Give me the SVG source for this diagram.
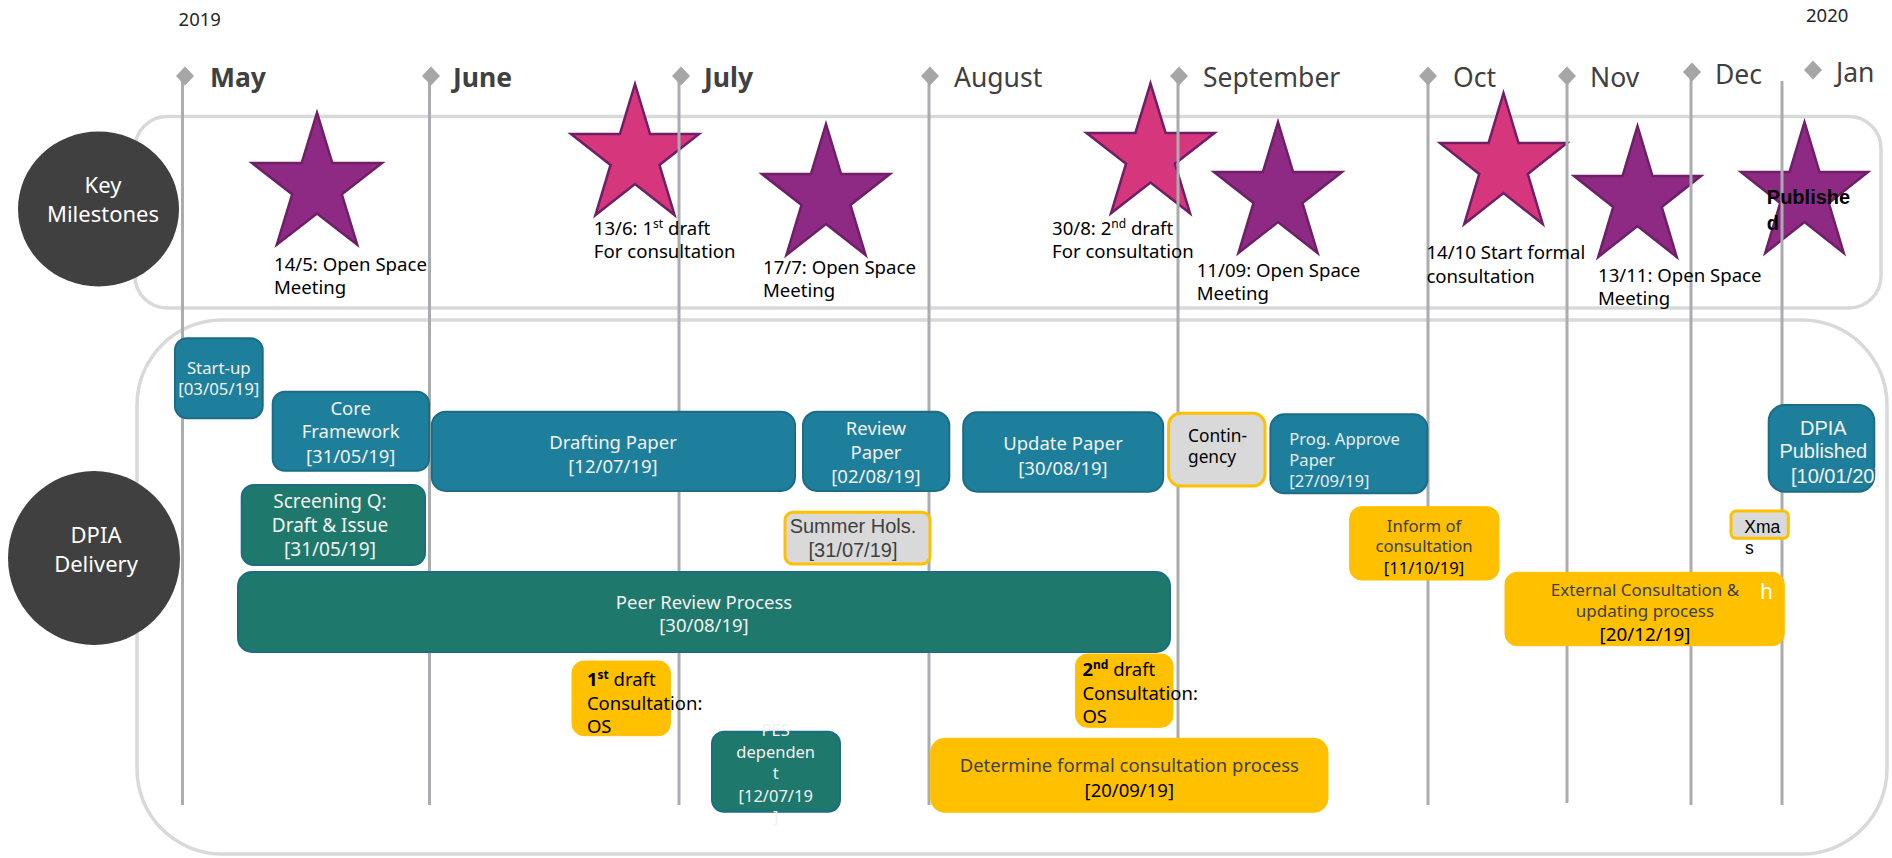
<svg xmlns="http://www.w3.org/2000/svg" xmlns:xlink="http://www.w3.org/1999/xlink" width="1892" height="858" viewBox="0 0 1892 858">
<style>
.t{font-family:"Noto Sans","Open Sans",sans-serif}
.a{font-family:"Liberation Sans",Arial,sans-serif}
.cont{fill:none;stroke:#D9D9D9;stroke-width:3.5}
.circ{fill:#404040}
.ctext{fill:#FFFFFF;font-size:22px;text-anchor:middle}
.vline{stroke:#AAACAF;stroke-width:3;fill:none}
.dia{fill:#A6A6A6}
.month{fill:#404040;font-size:26.5px}
.bold{font-weight:bold}
.year{fill:#262626;font-size:18.5px}
.purple{fill:#8E2A84}
.pink{fill:#D6377C}
.lbl{fill:#000000;font-size:18.6px}
.blue{fill:#1D7F9C;stroke:#1C6C86;stroke-width:2}
.teal{fill:#1F786C;stroke:#1C6C86;stroke-width:2}
.yel{fill:#FFC000;stroke:#FFC000;stroke-width:1}
.gray{fill:#D9D9D9;stroke:#FFC000;stroke-width:3}
.wt{fill:#F2F2F2;text-anchor:middle}
.dk{fill:#404040}
.bk{fill:#000000}
.mid{text-anchor:middle}
</style>
<defs>
<path id="star" d="M50,0 L61.8,38.2 L100,38.2 L69.1,61.8 L80.9,100 L50,76.4 L19.1,100 L30.9,61.8 L0,38.2 L38.2,38.2 Z" stroke="#6E1F66" stroke-width="2.5" vector-effect="non-scaling-stroke" stroke-linejoin="miter"/>
</defs>

<g id="containers">
<rect class="cont" x="135" y="116.5" width="1746" height="191.5" rx="32"/>
<rect class="cont" x="137" y="320" width="1750" height="534" rx="85"/>
</g>

<g id="key-milestones">
<ellipse class="circ" cx="98.5" cy="209" rx="80.5" ry="77.5"/>
<text class="t ctext" x="103" y="192.7">Key</text>
<text class="t ctext" x="103" y="221.7">Milestones</text>
</g>

<g id="dpia-delivery">
<ellipse class="circ" cx="94" cy="558" rx="86" ry="87"/>
<text class="t ctext" x="96" y="543.3">DPIA</text>
<text class="t ctext" x="96" y="572">Delivery</text>
</g>

<g id="stars">
<use xlink:href="#star" class="purple" transform="translate(252 112.7) scale(1.30 1.32)"/>
<use xlink:href="#star" class="pink" transform="translate(571 84) scale(1.28 1.31)"/>
<use xlink:href="#star" class="purple" transform="translate(762 124) scale(1.28 1.31)"/>
<use xlink:href="#star" class="pink" transform="translate(1086.5 83.3) scale(1.28 1.30)"/>
<use xlink:href="#star" class="purple" transform="translate(1214 122) scale(1.28 1.31)"/>
<use xlink:href="#star" class="pink" transform="translate(1440 93) scale(1.27 1.31)"/>
<use xlink:href="#star" class="purple" transform="translate(1574 126) scale(1.27 1.31)"/>
<use xlink:href="#star" class="purple" transform="translate(1741 122) scale(1.27 1.31)"/>
</g>

<g id="timeline">
<line class="vline" x1="182.5" y1="76" x2="182.5" y2="805"/>
<line class="vline" x1="429.5" y1="76" x2="429.5" y2="805"/>
<line class="vline" x1="679" y1="76" x2="679" y2="805"/>
<line class="vline" x1="929" y1="76" x2="929" y2="805"/>
<line class="vline" x1="1178" y1="76" x2="1178" y2="805"/>
<line class="vline" x1="1428" y1="76" x2="1428" y2="805"/>
<line class="vline" x1="1567" y1="76" x2="1567" y2="803"/>
<line class="vline" x1="1691" y1="72" x2="1691" y2="805"/>
<line class="vline" x1="1782" y1="81" x2="1782" y2="805"/>
<path class="dia" d="M185,66.5 L194,76 L185,85.5 L176,76 Z"/>
<path class="dia" d="M431,66.5 L440,76 L431,85.5 L422,76 Z"/>
<path class="dia" d="M681,66.5 L690,76 L681,85.5 L672,76 Z"/>
<path class="dia" d="M930,66.5 L939,76 L930,85.5 L921,76 Z"/>
<path class="dia" d="M1179,66.5 L1188,76 L1179,85.5 L1170,76 Z"/>
<path class="dia" d="M1428,66.5 L1437,76 L1428,85.5 L1419,76 Z"/>
<path class="dia" d="M1567,66.5 L1576,76 L1567,85.5 L1558,76 Z"/>
<path class="dia" d="M1692,62.5 L1701,72 L1692,81.5 L1683,72 Z"/>
<path class="dia" d="M1813,60.5 L1822,70 L1813,79.5 L1804,70 Z"/>
</g>

<g id="months">
<text class="t year" x="178.6" y="26">2019</text>
<text class="t year" x="1806" y="22">2020</text>
<text class="t month bold" x="210" y="87">May</text>
<text class="t month bold" x="453" y="87">June</text>
<text class="t month bold" x="704" y="87">July</text>
<text class="t month" x="954" y="87">August</text>
<text class="t month" x="1203" y="87">September</text>
<text class="t month" x="1453" y="87">Oct</text>
<text class="t month" x="1590" y="87">Nov</text>
<text class="t month" x="1715" y="84">Dec</text>
<text class="t month" x="1836" y="82">Jan</text>
</g>

<g id="milestone-labels">
<text class="t lbl" x="274" y="271">14/5: Open Space</text>
<text class="t lbl" x="274" y="294">Meeting</text>
<text class="t lbl" x="593.8" y="235">13/6: 1<tspan font-size="12" dy="-7">st</tspan><tspan dy="7"> draft</tspan></text>
<text class="t lbl" x="593.8" y="258">For consultation</text>
<text class="t lbl" x="763" y="274">17/7: Open Space</text>
<text class="t lbl" x="763" y="297">Meeting</text>
<text class="t lbl" x="1052" y="235">30/8: 2<tspan font-size="12" dy="-7">nd</tspan><tspan dy="7"> draft</tspan></text>
<text class="t lbl" x="1052" y="258">For consultation</text>
<text class="t lbl" x="1196.7" y="277">11/09: Open Space</text>
<text class="t lbl" x="1196.7" y="300">Meeting</text>
<text class="t lbl" x="1426.4" y="259">14/10 Start formal</text>
<text class="t lbl" x="1426.4" y="283">consultation</text>
<text class="t lbl" x="1598" y="281.7">13/11: Open Space</text>
<text class="t lbl" x="1598" y="305">Meeting</text>
<text class="a bk bold" font-size="20" x="1766.8" y="204">Publishe</text>
<text class="a bk bold" font-size="20" x="1766.8" y="230">d</text>
</g>

<g id="startup">
<rect class="blue" x="175" y="338.3" width="87.7" height="80" rx="12"/>
<text class="t wt" font-size="16.8" x="218.8" y="374">Start-up</text>
<text class="t wt" font-size="16.8" x="218.8" y="395">[03/05/19]</text>
</g>
<g id="core-framework">
<rect class="blue" x="272.7" y="391.7" width="156.3" height="79" rx="12"/>
<text class="t wt" font-size="18.5" x="350.7" y="415">Core</text>
<text class="t wt" font-size="18.5" x="350.7" y="438.3">Framework</text>
<text class="t wt" font-size="18.5" x="350.7" y="462.7">[31/05/19]</text>
</g>
<g id="screening">
<rect class="teal" x="241.7" y="485" width="183.3" height="80" rx="12"/>
<text class="t wt" font-size="19" x="330" y="508.3">Screening Q:</text>
<text class="t wt" font-size="19" x="330" y="532">Draft &amp; Issue</text>
<text class="t wt" font-size="19" x="330" y="556">[31/05/19]</text>
</g>
<g id="peer-review">
<rect class="teal" x="238" y="572" width="932" height="80" rx="14"/>
<text class="t wt" font-size="18.5" x="704" y="609.3">Peer Review Process</text>
<text class="t wt" font-size="18.5" x="704" y="632.3">[30/08/19]</text>
</g>
<g id="drafting-paper">
<rect class="blue" x="431.8" y="411.7" width="363.2" height="79.3" rx="14"/>
<text class="t wt" font-size="18.5" x="613" y="449.3">Drafting Paper</text>
<text class="t wt" font-size="18.5" x="613" y="473.3">[12/07/19]</text>
</g>
<g id="review-paper">
<rect class="blue" x="803" y="411.7" width="146.3" height="79.3" rx="14"/>
<text class="t wt" font-size="18.5" x="876" y="435">Review</text>
<text class="t wt" font-size="18.5" x="876" y="459.3">Paper</text>
<text class="t wt" font-size="18.5" x="876" y="483.3">[02/08/19]</text>
</g>
<g id="summer-hols">
<rect class="gray" x="785" y="512.3" width="145" height="51.7" rx="8"/>
<text class="a dk mid" font-size="20" x="853" y="532.7">Summer Hols.</text>
<text class="a dk mid" font-size="20" x="853" y="556.7">[31/07/19]</text>
</g>
<g id="update-paper">
<rect class="blue" x="963.2" y="412.3" width="200" height="79.4" rx="14"/>
<text class="t wt" font-size="18.5" x="1063" y="450">Update Paper</text>
<text class="t wt" font-size="18.5" x="1063" y="475">[30/08/19]</text>
</g>
<g id="contingency">
<rect class="gray" x="1168.6" y="413.3" width="96.4" height="72.7" rx="12"/>
<text class="t bk" font-size="17.3" x="1188" y="441.7">Contin-</text>
<text class="t bk" font-size="17.3" x="1188" y="463.3">gency</text>
</g>
<g id="prog-approve">
<rect class="blue" x="1270.4" y="414.3" width="157" height="79" rx="14"/>
<text class="t" fill="#E6EEF2" font-size="16.6" x="1289.3" y="445">Prog. Approve</text>
<text class="t" fill="#E6EEF2" font-size="16.6" x="1289.3" y="466">Paper</text>
<text class="t" fill="#E6EEF2" font-size="16.6" x="1289.3" y="487.3">[27/09/19]</text>
</g>
<g id="inform-consultation">
<rect class="yel" x="1349.6" y="506.7" width="149.4" height="73.3" rx="12"/>
<text class="t dk mid" font-size="16.7" x="1424" y="531.7">Inform of</text>
<text class="t dk mid" font-size="16.7" x="1424" y="551.7">consultation</text>
<text class="t bk mid" font-size="16.7" x="1424" y="574">[11/10/19]</text>
</g>
<g id="external-consultation">
<rect class="yel" x="1505" y="572.3" width="279.3" height="73.4" rx="12"/>
<text class="t dk mid" font-size="17" x="1645" y="596">External Consultation &amp;</text>
<text class="t dk mid" font-size="17" x="1645" y="616.7">updating process</text>
<text class="t bk mid" font-size="18.8" x="1645" y="640.7">[20/12/19]</text>
<text class="t" fill="#FFFFFF" font-size="21" x="1760" y="599.3">h</text>
</g>
<g id="xmas">
<rect class="gray" x="1731" y="511" width="57.3" height="27.3" rx="5"/>
<text class="a bk" font-size="17.5" x="1744.3" y="533.3">Xma</text>
<text class="a bk" font-size="17.5" x="1745" y="554">s</text>
</g>
<g id="dpia-published">
<rect class="blue" x="1768.7" y="405" width="105.6" height="86.7" rx="16"/>
<text class="a" fill="#F2F2F2" font-size="20" text-anchor="middle" x="1823.3" y="435">DPIA</text>
<text class="a" fill="#F2F2F2" font-size="20" text-anchor="middle" x="1823.3" y="458.3">Published</text>
<text class="a" fill="#F2F2F2" font-size="20" x="1791" y="483.3">[10/01/20]</text>
</g>
<g id="first-draft">
<rect class="yel" x="572" y="661" width="98.4" height="74.7" rx="12"/>
<text class="t bk" font-size="18.5" x="586.9" y="686"><tspan font-weight="bold">1</tspan><tspan font-weight="bold" font-size="12" dy="-7">st</tspan><tspan dy="7"> draft</tspan></text>
<text class="t bk" font-size="18.5" x="586.9" y="710">Consultation:</text>
<text class="t bk" font-size="18.5" x="586.9" y="733.3">OS</text>
</g>
<g id="pes-dependent">
<rect class="teal" x="712" y="731.7" width="128" height="80" rx="12"/>
<text class="t wt" font-size="16.5" x="775.7" y="736">PES</text>
<text class="t wt" font-size="16.5" x="775.7" y="758.3">dependen</text>
<text class="t wt" font-size="16.5" x="775.7" y="779.3">t</text>
<text class="t wt" font-size="16.5" x="775.7" y="801.7">[12/07/19</text>
<text class="t wt" font-size="16.5" x="775.7" y="823.3">]</text>
</g>
<g id="determine-process">
<rect class="yel" x="930.6" y="738.3" width="397.4" height="74" rx="14"/>
<text class="t dk mid" font-size="18.5" x="1129.3" y="771.7">Determine formal consultation process</text>
<text class="t bk mid" font-size="18.5" x="1129.3" y="796.7">[20/09/19]</text>
</g>
<g id="second-draft">
<rect class="yel" x="1075.5" y="654" width="97.5" height="73.3" rx="12"/>
<text class="t bk" font-size="18.5" x="1082.4" y="675.7"><tspan font-weight="bold">2</tspan><tspan font-weight="bold" font-size="12" dy="-7">nd</tspan><tspan dy="7"> draft</tspan></text>
<text class="t bk" font-size="18.5" x="1082.4" y="700">Consultation:</text>
<text class="t bk" font-size="18.5" x="1082.4" y="723.3">OS</text>
</g>
</svg>
